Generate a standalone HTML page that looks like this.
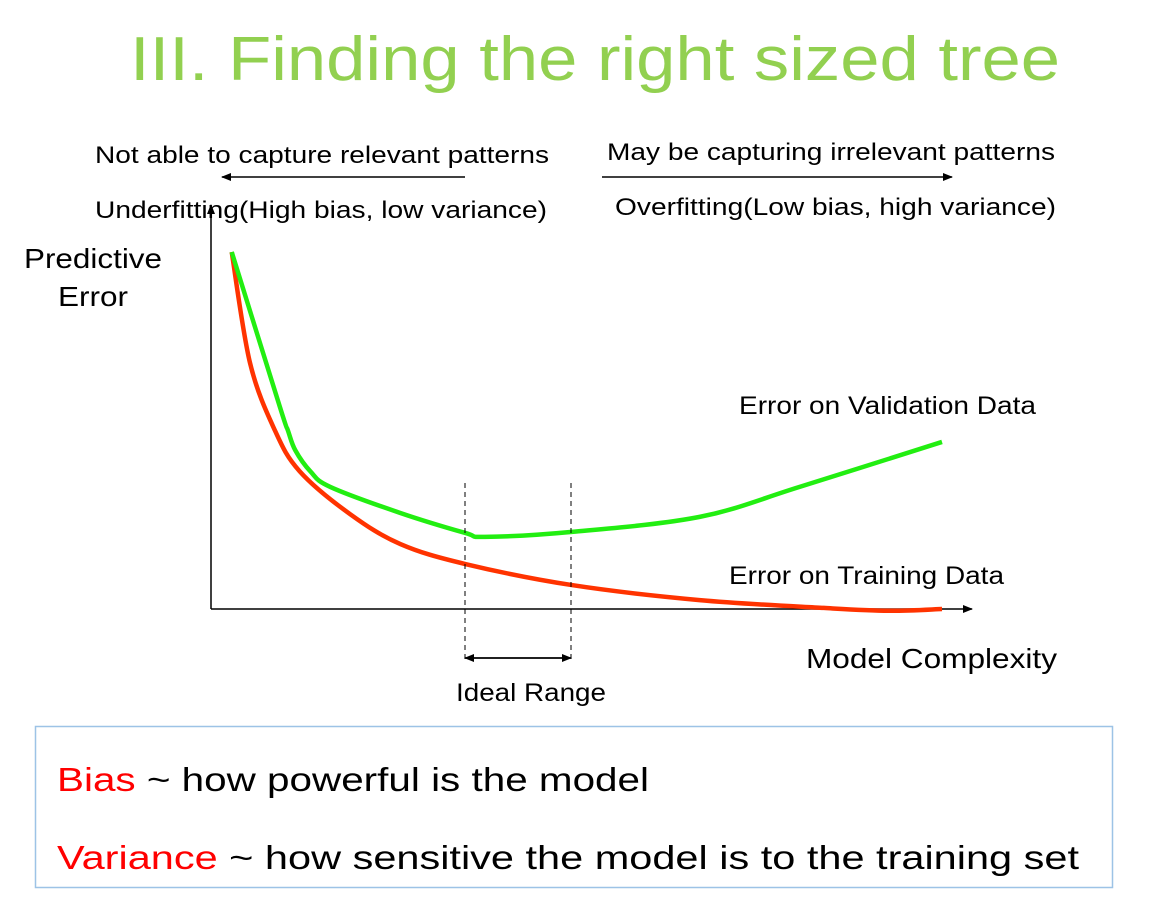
<!DOCTYPE html>
<html><head><meta charset="utf-8"><style>
html,body{margin:0;padding:0;background:#fff;}
svg{display:block;font-family:"Liberation Sans",Arial,sans-serif;}
</style></head><body>
<svg id="chart" width="1150" height="906" viewBox="0 0 1150 906">
<defs>
<marker id="ah" markerWidth="10" markerHeight="10" refX="9" refY="5" orient="auto" markerUnits="userSpaceOnUse"><path d="M0,1 L10,5 L0,9 Z" fill="#000"/></marker>
</defs>
<text x="595" y="80" text-anchor="middle" font-size="62" fill="#92d050" textLength="930" lengthAdjust="spacingAndGlyphs">III. Finding the right sized tree</text>
<text x="95" y="163" font-size="24" textLength="454" lengthAdjust="spacingAndGlyphs">Not able to capture relevant patterns</text>
<line x1="465" y1="177" x2="222" y2="177" stroke="#000" stroke-width="1.5" marker-end="url(#ah)"/>
<text x="95" y="218" font-size="24" textLength="452" lengthAdjust="spacingAndGlyphs">Underfitting(High bias, low variance)</text>
<text x="607" y="160" font-size="24" textLength="448" lengthAdjust="spacingAndGlyphs">May be capturing irrelevant patterns</text>
<line x1="602" y1="177" x2="952" y2="177" stroke="#000" stroke-width="1.5" marker-end="url(#ah)"/>
<text x="615" y="215" font-size="24" textLength="441" lengthAdjust="spacingAndGlyphs">Overfitting(Low bias, high variance)</text>
<text x="24" y="268" font-size="28" textLength="138" lengthAdjust="spacingAndGlyphs">Predictive</text>
<text x="58" y="306" font-size="28" textLength="70" lengthAdjust="spacingAndGlyphs">Error</text>
<line x1="211" y1="609" x2="211" y2="205" stroke="#000" stroke-width="1.5" marker-end="url(#ah)"/>
<line x1="211" y1="609" x2="972" y2="609" stroke="#000" stroke-width="1.5" marker-end="url(#ah)"/>
<text x="806" y="668" font-size="28" textLength="251" lengthAdjust="spacingAndGlyphs">Model Complexity</text>
<g id="series"></g>
<text x="739" y="414" font-size="25" textLength="297" lengthAdjust="spacingAndGlyphs">Error on Validation Data</text>
<text x="729" y="584" font-size="25" textLength="275" lengthAdjust="spacingAndGlyphs">Error on Training Data</text>
<line x1="465" y1="483" x2="465" y2="663" stroke="#000" stroke-width="1" stroke-dasharray="5,4"/>
<line x1="571" y1="483" x2="571" y2="663" stroke="#000" stroke-width="1" stroke-dasharray="5,4"/>
<line x1="470" y1="658" x2="571" y2="658" stroke="#000" stroke-width="1.5" marker-end="url(#ah)"/>
<line x1="566" y1="658" x2="465" y2="658" stroke="#000" stroke-width="1.5" marker-end="url(#ah)"/>
<text x="456" y="701" font-size="25" textLength="150" lengthAdjust="spacingAndGlyphs">Ideal Range</text>
<rect x="35.5" y="726.5" width="1077" height="161" fill="none" stroke="#9dc3e6" stroke-width="1.5"/>
<text x="57" y="791" font-size="33" textLength="592" lengthAdjust="spacingAndGlyphs"><tspan fill="#ff0000">Bias</tspan> ~ how powerful is the model</text>
<text x="57" y="869" font-size="33" textLength="1022" lengthAdjust="spacingAndGlyphs"><tspan fill="#ff0000">Variance</tspan> ~ how sensitive the model is to the training set</text>
</svg>
<script>
const validationX = [2.7, 9.3, 10.4, 11.4, 13.5, 16.2, 25.8, 34.7, 37.4, 49.3, 66.8, 80.5, 100];
const validationY = [100, 56.6, 50, 44.5, 38.5, 34.2, 26.9, 21.3, 20.2, 21.6, 25.8, 34.2, 46.8];
const trainingX = [2.7, 5.2, 8.6, 12, 18.9, 25.8, 34.7, 49.3, 66.8, 83.8, 92.7, 100];
const trainingY = [100, 69, 50.1, 38.6, 26.6, 18.2, 12.6, 6.7, 2.5, 0.3, -0.5, 0];
function xScale(v){ return 212 + v * 7.3; }
function yScale(v){ return 609 - v * 3.57; }
function pathFrom(xs, ys){
  const p = xs.map((x,i)=>[xScale(x), yScale(ys[i])]);
  let d = 'M' + p[0][0] + ',' + p[0][1];
  for (let i=0;i<p.length-1;i++){
    const p0=p[Math.max(0,i-1)], p1=p[i], p2=p[i+1], p3=p[Math.min(p.length-1,i+2)];
    const c1x=p1[0]+(p2[0]-p0[0])/6, c1y=p1[1]+(p2[1]-p0[1])/6;
    const c2x=p2[0]-(p3[0]-p1[0])/6, c2y=p2[1]-(p3[1]-p1[1])/6;
    d += ' C'+c1x+','+c1y+' '+c2x+','+c2y+' '+p2[0]+','+p2[1];
  }
  return d;
}
const g = document.getElementById('series');
const ns = 'http://www.w3.org/2000/svg';
const red = document.createElementNS(ns,'path');
red.setAttribute('d', pathFrom(trainingX, trainingY));
red.setAttribute('fill','none'); red.setAttribute('stroke','#ff3300'); red.setAttribute('stroke-width','4.5');


g.appendChild(red);
const green = document.createElementNS(ns,'path');
green.setAttribute('d', pathFrom(validationX, validationY));
green.setAttribute('fill','none'); green.setAttribute('stroke','#22ee11'); green.setAttribute('stroke-width','4.5');


g.appendChild(green);
</script>
</body></html>
